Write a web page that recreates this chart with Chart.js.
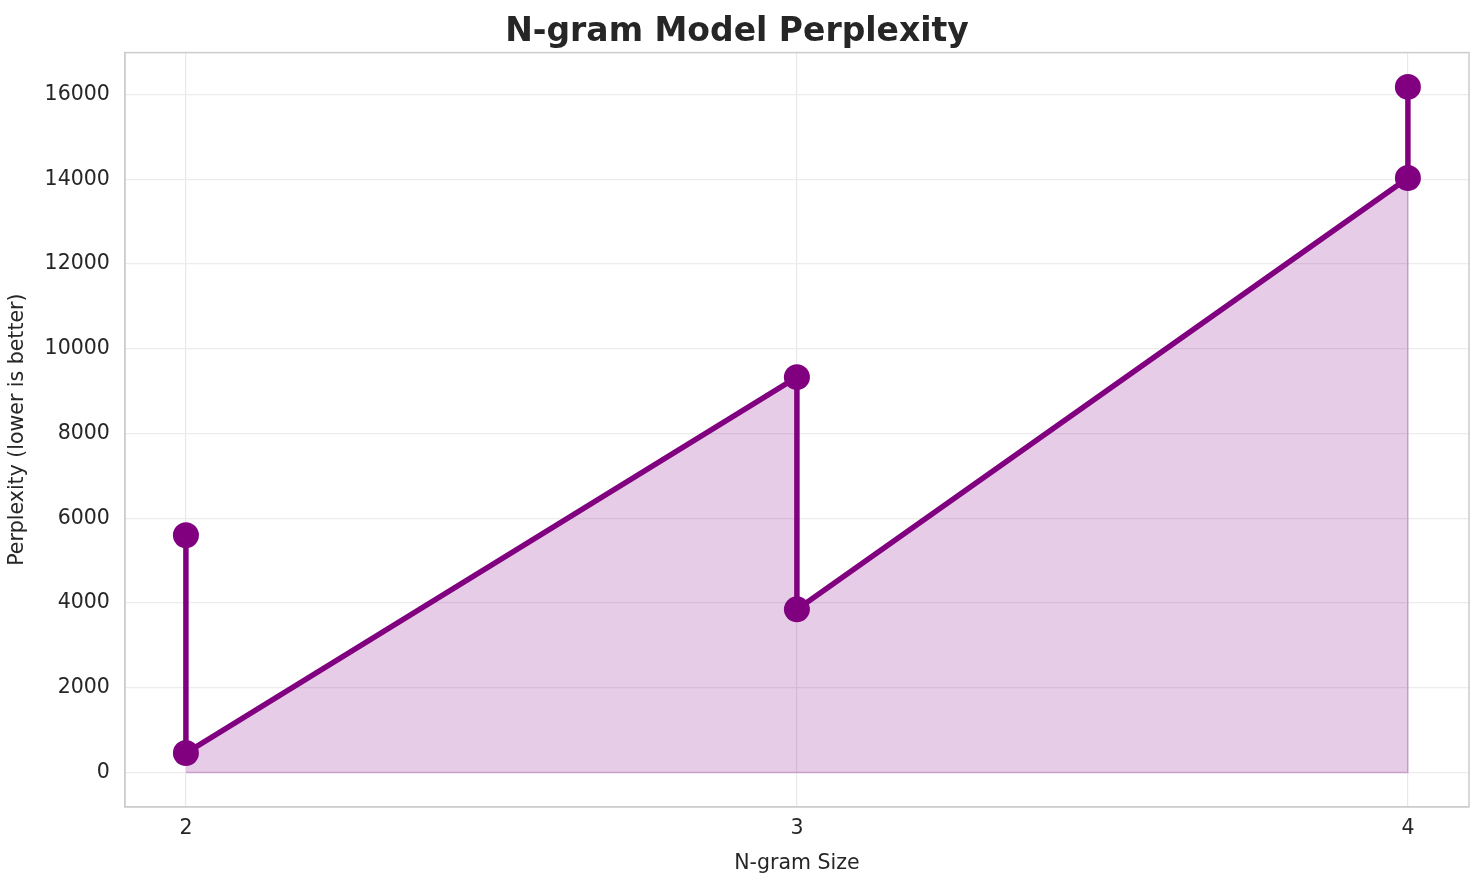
<!DOCTYPE html>
<html lang="en">
<head>
    <meta charset="UTF-8">
    <title>N-gram Model Perplexity</title>
    <script src="https://cdn.jsdelivr.net/npm/chart.js"></script>
    <style>
        html, body { margin: 0; padding: 0; background: #ffffff; }
        #grafico { display: block; }
    </style>
</head>
<body>
    <canvas id="grafico" width="1484" height="885"></canvas>
<script>
    // dados
    var ngramSize = [2, 2, 3, 3, 4, 4];
    var perplexity = [5600, 460, 9330, 3850, 14030, 16180];
    var xTicks = [2, 3, 4];
    var yTicks = [0, 2000, 4000, 6000, 8000, 10000, 12000, 14000, 16000];

    var roxo = 'rgb(128, 0, 128)';
    var texto = '#262626';

    var pontos = [];
    for (var i = 0; i < ngramSize.length; i++) {
        pontos.push({ x: ngramSize[i], y: perplexity[i] });
    }

    // contorno do preenchimento (base e lado direito), como o fill_between
    var ultimo = ngramSize.length - 1;
    var contorno = [
        { x: ngramSize[0], y: 0 },
        { x: ngramSize[ultimo], y: 0 },
        { x: ngramSize[ultimo], y: perplexity[ultimo - 1] }
    ];

    // margens de 5% como o matplotlib
    var xMin = Math.min.apply(null, ngramSize), xMax = Math.max.apply(null, ngramSize);
    var yMin = 0, yMax = Math.max.apply(null, perplexity);
    var xPad = (xMax - xMin) * 0.05, yPad = (yMax - yMin) * 0.05;

    // moldura em volta da área do gráfico (as 4 bordas)
    const moldura = {
        id: 'moldura',
        afterDraw: function (chart) {
            var a = chart.chartArea;
            var c = chart.ctx;
            c.save();
            c.strokeStyle = '#cccccc';
            c.lineWidth = 1.5;
            c.strokeRect(a.left, a.top, a.right - a.left, a.bottom - a.top);
            c.restore();
        }
    };

    const ctx = document.getElementById('grafico');
    new Chart(ctx, {
        type: 'scatter',
        data: {
            datasets: [{
                label: 'fill',
                data: pontos,
                showLine: true,
                fill: 'origin',
                backgroundColor: 'rgba(128, 0, 128, 0.2)',
                borderColor: 'rgba(0,0,0,0)',
                borderWidth: 0,
                pointRadius: 0,
                order: 3
            }, {
                label: 'edge',
                data: contorno,
                showLine: true,
                fill: false,
                borderColor: 'rgba(128, 0, 128, 0.25)',
                borderWidth: 1.5,
                pointRadius: 0,
                order: 2
            }, {
                label: 'Perplexity',
                data: pontos,
                showLine: true,
                fill: false,
                borderColor: roxo,
                borderWidth: 5.5,
                backgroundColor: roxo,
                pointBackgroundColor: roxo,
                pointBorderColor: roxo,
                pointRadius: 13,
                pointBorderWidth: 0,
                order: 1
            }]
        },
        plugins: [moldura],
        options: {
            responsive: false,
            animation: false,
            devicePixelRatio: 1,
            layout: { padding: { left: 5, right: 15, top: 6, bottom: 9 } },
            plugins: {
                legend: { display: false },
                tooltip: { enabled: false },
                title: {
                    display: true,
                    text: 'N-gram Model Perplexity',
                    color: texto,
                    font: { family: 'DejaVu Sans', size: 33, weight: 'bold' },
                    padding: { top: 7, bottom: 0 }
                }
            },
            scales: {
                x: {
                    type: 'linear',
                    min: xMin - xPad,
                    max: xMax + xPad,
                    afterBuildTicks: function (axis) {
                        axis.ticks = xTicks.map(function (v) { return { value: v }; });
                    },
                    ticks: {
                        color: texto,
                        font: { family: 'DejaVu Sans', size: 20.5 },
                        padding: 10
                    },
                    grid: { color: '#e8e8e8', lineWidth: 1.2, drawTicks: false },
                    border: { color: '#cccccc', width: 1.5 },
                    title: {
                        display: true,
                        text: 'N-gram Size',
                        color: texto,
                        font: { family: 'DejaVu Sans', size: 20.5 },
                        padding: { top: 0, bottom: 0 }
                    }
                },
                y: {
                    type: 'linear',
                    min: yMin - yPad,
                    max: yMax + yPad,
                    afterBuildTicks: function (axis) {
                        axis.ticks = yTicks.map(function (v) { return { value: v }; });
                    },
                    ticks: {
                        color: texto,
                        font: { family: 'DejaVu Sans', size: 20.5 },
                        padding: 15,
                        callback: function (v) { return String(v); }
                    },
                    grid: { color: '#ececec', lineWidth: 1.2, drawTicks: false },
                    border: { color: '#cccccc', width: 1.5 },
                    title: {
                        display: true,
                        text: 'Perplexity (lower is better)',
                        color: texto,
                        font: { family: 'DejaVu Sans', size: 20.5 },
                        padding: { top: 0, bottom: 0 }
                    }
                }
            }
        }
    });
</script>
</body>
</html>
